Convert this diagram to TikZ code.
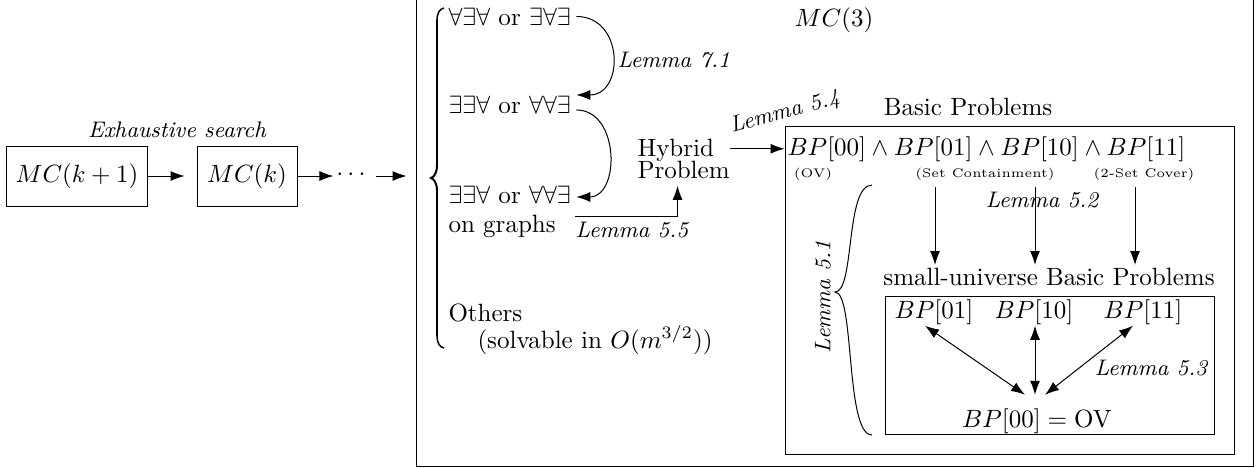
\documentclass[tikz,border=0pt]{standalone}
\usetikzlibrary{arrows.meta,calc}
\begin{document}
\begin{tikzpicture}[x=0.4pt,y=-0.4pt,
  >={Latex[length=5.6pt,width=4pt]},
  box/.style={draw,inner sep=0pt},
  txt/.style={inner sep=0pt},
  lem/.style={inner sep=0pt,font=\small\itshape},
  tinylab/.style={inner sep=0pt,font=\tiny},
  stem/.style={line width=1.1pt},
  hook/.style={line width=0.6pt}]
\useasboundingbox (0,0) rectangle (1258,467);

% left chain
\node[box,minimum width=56pt,minimum height=24pt] (mk1) at (77,176) {$MC(k+1)$};
\node[box,minimum width=40pt,minimum height=24pt] (mk) at (247,176) {$MC(k)$};
\node[lem] (ex) at (177,130) {Exhaustive search};
\node[txt] (dots) at (351,175) {$\cdots$};
\node[box,minimum width=334.8pt,minimum height=187.6pt] (big) at (834.5,231.5) {};
\draw[->,shorten >=4.8pt] (mk1) -- (mk);
\draw[->,shorten >=1pt] (mk) -- (mk -| dots.west);
\draw[->,shorten <=4pt,shorten >=3.6pt] (mk -| dots.east) -- (mk -| big.west);

\node[txt] (mc3) at (834,20) {$MC(3)$};

% big brace (drawn)
\draw[stem] (437,20) -- (437,166);
\draw[stem] (437,190) -- (437,336);
\draw[hook] (437,21) .. controls (437,12) and (440,9) .. (444,8);
\draw[hook] (437,335) .. controls (437,344) and (440,347) .. (444,348);
\draw[line width=0.8pt] (437,165) .. controls (437,173) and (434,177) .. (431,178)
   .. controls (434,179) and (437,183) .. (437,191);

% list
\node[txt,anchor=base west] (l1) at (448,25) {$\forall\exists\forall$ or $\exists\forall\exists$};
\node[txt,anchor=base west] (l2) at (448,113) {$\exists\exists\forall$ or $\forall\forall\exists$};
\node[txt,anchor=base west] (l3) at (448,203) {$\exists\exists\forall$ or $\forall\forall\exists$};
\node[txt,anchor=base west] (l3b) at (448,232) {on graphs};
\node[txt,anchor=base west] (oth) at (448,321) {Others};
\node[txt,anchor=base west] (sol) at (477,348) {(solvable in $O(m^{3/2})$)};

\draw[->] ([xshift=2pt]l1.east) to[out=0,in=0,looseness=1.57] ([xshift=2pt,yshift=3.8pt]l2.east);
\draw[->] ([xshift=2pt,yshift=-2.2pt]l2.east) to[out=0,in=0,looseness=1.29] ([xshift=2pt,yshift=-1pt]l3.east);
\node[lem,anchor=west] (lem71) at (617,60) {Lemma 7.1};

% hybrid
\node[txt,align=left,anchor=west] (hyb) at (637,159) {Hybrid\\[-3pt]Problem};
\coordinate (g0) at (575,216);
\draw[->] (g0) -| ([xshift=-2.4pt,yshift=-2.5pt]hyb.south);
\node[lem] (lem55) at (632,230) {Lemma 5.5};

% basic problems
\node[box,minimum width=179.6pt,minimum height=131.2pt] (bpbox) at (1009.5,290) {};
\node[txt,anchor=base] (bptitle) at (968,115) {Basic Problems};
\node[txt,anchor=base west] (bpline) at (787,155) {$BP[00]\wedge BP[01]\wedge BP[10]\wedge BP[11]$};
\draw[->] (hyb.east |- bpline) -- (bpbox.west |- bpline);
\node[lem,rotate=15] (lem54) at (785,113) {Lemma 5.4};
\node[tinylab,anchor=base] (ov) at (813,177) {(OV)};
\node[tinylab,anchor=base] (setc) at (985,177) {(Set Containment)};
\node[tinylab,anchor=base] (cover) at (1144,177) {(2-Set Cover)};

\node[txt,anchor=base] (sut) at (1049,285) {small-universe Basic Problems};
\node[box,minimum width=131.6pt,minimum height=55.2pt] (subbox) at (1049.5,365) {};

\coordinate (a1) at (935,187); \coordinate (b1) at (935,265);
\coordinate (a2) at (1035,187); \coordinate (b2) at (1035,265);
\coordinate (a3) at (1135,187); \coordinate (b3) at (1135,265);
\draw[->] (a1) -- (b1);
\draw[->] (a2) -- (b2);
\draw[->] (a3) -- (b3);
\node[lem] (lem52) at (1042,200) {Lemma 5.2};

\node[txt,anchor=base] (b01) at (934,318) {$BP[01]$};
\node[txt,anchor=base] (b10) at (1034,318) {$BP[10]$};
\node[txt,anchor=base] (b11) at (1143,318) {$BP[11]$};
\node[txt,anchor=base] (b00) at (1037,427) {$BP[00]=\mathrm{OV}$};
\draw[<->] ($(b01.south)+(-9,1)$) -- ($(b00.north)+(-12,-13)$);
\draw[<->] ($(b10.south)+(1,1)$) -- ($(b00.north)+(-2,-13)$);
\draw[<->] ($(b11.south)+(-10,1)$) -- ($(b00.north)+(8,-13)$);
\node[lem] (lem53) at (1151,368) {Lemma 5.3};

% lemma 5.1 brace
\draw (872,185) .. controls (845,185) and (855,292) .. (835,292)
      .. controls (855,292) and (845,435) .. (872,435);
\node[lem,rotate=90] (lem51) at (823,297) {Lemma 5.1};
\end{tikzpicture}
\end{document}
